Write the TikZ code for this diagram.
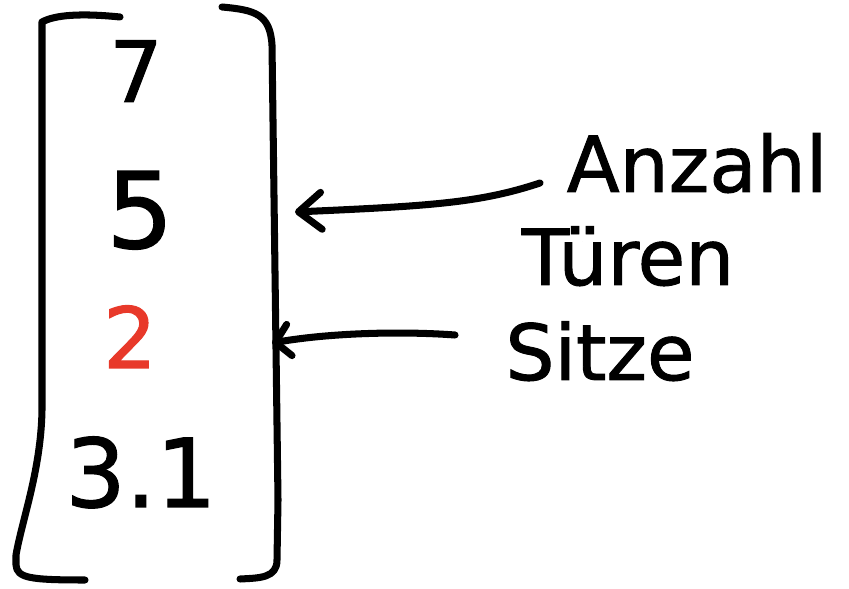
\documentclass[tikz,border=0pt]{standalone}
\usepackage{fontspec}
\setmainfont{DejaVu Sans}[FakeBold=1.2]
\usetikzlibrary{arrows.meta}
\definecolor{inkred}{HTML}{E8392A}
\tikzset{
  ink/.style={line width=2pt, line cap=round, line join=round},
  pointer/.style={ink, -{Straight Barb[length=6.5pt, width=10.5pt, round]}},
  entry/.style={inner sep=0pt, anchor=base},
  label/.style={font=\fontsize{22}{22}\selectfont, inner sep=0pt, anchor=base},
}
\newcommand{\digitsize}[1]{\fontsize{#1}{#1}\selectfont}
\begin{document}
\begin{tikzpicture}[x=0.01cm, y=-0.01cm]
  \useasboundingbox[fill=white] (0,0) rectangle (849,589);

  % brackets of the vector
  \draw[ink] (120,17) .. controls (80,13) and (55,15) .. (42,22)
             -- (42,410) .. controls (41,470) and (22,520) .. (16,555)
             -- (16,565) .. controls (17,578) and (30,580) .. (85,580);
  \draw[ink] (222,7) .. controls (255,10) and (270,14) .. (272,45)
             -- (278,500) -- (277,560) .. controls (277,578) and (260,578) .. (240,579);

  % vector entries
  \node[entry, font=\digitsize{24}] (e1) at (136,102) {7};
  \node[entry, font=\digitsize{30}] (e2) at (140,248) {5};
  \node[entry, font=\digitsize{24}, text=inkred] (e3) at (130,368) {2};
  \node[entry, font=\digitsize{27}] (e4) at (141,507) {3.1};

  % labels
  \node[label] (anzahl) at (697,192) {Anzahl};
  \node[label] (tueren) at (628,285) {Türen};
  \node[label] (sitze)  at (600,380) {Sitze};

  % arrow end points
  \coordinate (a1s) at (540,183);
  \coordinate (a1e) at (295,212);
  \coordinate (a2s) at (455,335);
  \coordinate (a2e) at (272,343);

  \draw[pointer] (a1s) .. controls (480,203) and (430,206) .. (a1e);
  \draw[pointer, -{Straight Barb[length=4pt, width=9pt, round]}]
        (a2s) .. controls (400,331) and (330,333) .. (a2e);
\end{tikzpicture}
\end{document}
